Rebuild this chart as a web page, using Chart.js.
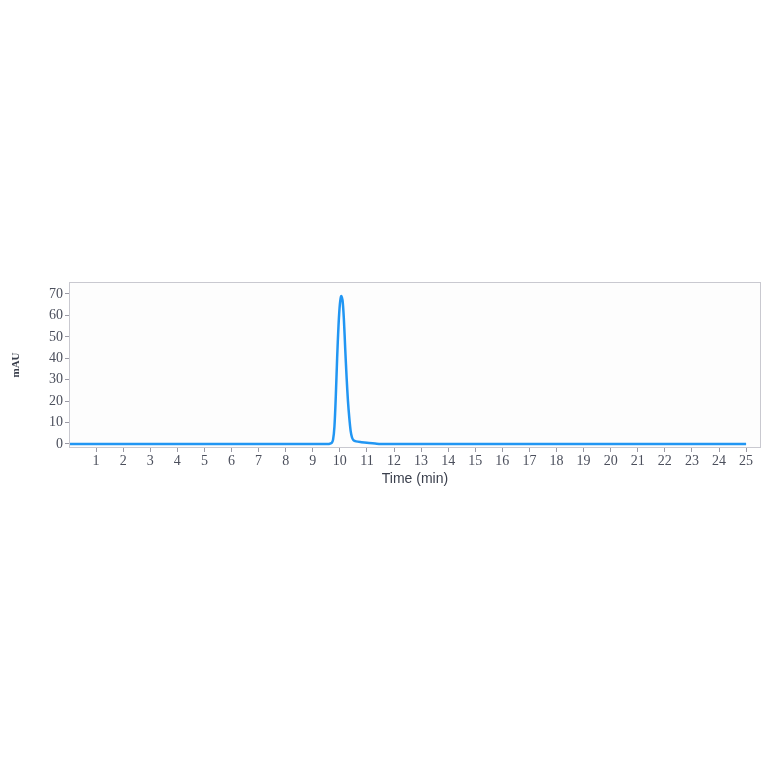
<!DOCTYPE html>
<html>

<head>
    <title>Chromatogram</title>
    <script src="https://cdn.jsdelivr.net/npm/chart.js"></script>
    <style>
        body {
            margin: 0;
            background: #ffffff;
        }

        #wrap {
            position: absolute;
            left: 0;
            top: 0;
            width: 764px;
            height: 764px;
        }
    </style>
</head>

<body>
    <div id="wrap"><canvas id="chrom"></canvas></div>

    <script>
        // retention time (min) and absorbance (mAU)
        const times = [0, 9.5, 9.6, 9.7, 9.75, 9.8, 9.85, 9.9, 9.95, 10.0, 10.05, 10.1, 10.15, 10.2, 10.25, 10.3, 10.35, 10.4, 10.45, 10.5, 10.6, 10.8, 11.0, 11.3, 11.5, 25];
        const mAU = [0, 0, 0, 0.5, 2, 8, 22, 40, 55, 65, 69, 67, 58, 44, 31, 20, 12, 6, 3, 1.8, 1.2, 0.8, 0.5, 0.2, 0, 0];
        const xTicks = [1, 2, 3, 4, 5, 6, 7, 8, 9, 10, 11, 12, 13, 14, 15, 16, 17, 18, 19, 20, 21, 22, 23, 24, 25];
        const yTicks = [0, 10, 20, 30, 40, 50, 60, 70];

        const frame = {
            id: 'frame',
            beforeDraw(chart) {
                const a = chart.chartArea, c = chart.ctx;
                c.save();
                c.fillStyle = '#fdfdfd';
                c.fillRect(a.left, a.top, a.right - a.left, a.bottom - a.top);
                c.restore();
            },
            afterDraw(chart) {
                const a = chart.chartArea, c = chart.ctx;
                c.save();
                c.strokeStyle = '#c9c9d0';
                c.lineWidth = 1;
                c.strokeRect(a.left + 0.5, a.top + 0.5, a.right - a.left - 1, a.bottom - a.top - 1);
                c.restore();
            }
        };

        const tickColor = '#4b4f5c';
        const serif = '"Liberation Serif", "DejaVu Serif", serif';

        new Chart(document.getElementById('chrom'), {
            type: 'line',
            data: {
                datasets: [{
                    data: times.map((t, i) => ({ x: t, y: mAU[i] })),
                    borderColor: '#2196f3',
                    borderWidth: 2.5,
                    pointRadius: 0,
                    tension: 0.3,
                    fill: false
                }]
            },
            plugins: [frame],
            options: {
                responsive: true,
                maintainAspectRatio: false,
                animation: false,
                layout: {
                    padding: { left: 6, right: 3, top: 282, bottom: 276 }
                },
                plugins: {
                    legend: { display: false },
                    tooltip: { enabled: false }
                },
                scales: {
                    x: {
                        type: 'linear',
                        min: 0,
                        max: 25.55,
                        afterBuildTicks: s => { s.ticks = xTicks.map(v => ({ value: v })); },
                        afterFit: s => { s.height = 40; },
                        border: { display: false },
                        grid: { drawOnChartArea: false, tickLength: 4, color: '#9a9aa5' },
                        ticks: {
                            color: tickColor,
                            padding: 1,
                            maxRotation: 0,
                            autoSkip: false,
                            font: { family: serif, size: 14 }
                        },
                        title: {
                            display: true,
                            text: 'Time (min)',
                            color: '#3a3f4c',
                            padding: { top: 0, bottom: 0 },
                            font: { family: 'Arial, "Liberation Sans", sans-serif', size: 14 }
                        }
                    },
                    y: {
                        min: -1.9,
                        max: 75.6,
                        afterBuildTicks: s => { s.ticks = yTicks.map(v => ({ value: v })); },
                        afterFit: s => { s.width = 63; },
                        border: { display: false },
                        grid: { drawOnChartArea: false, tickLength: 4, color: '#9a9aa5' },
                        ticks: {
                            color: tickColor,
                            padding: 2,
                            font: { family: serif, size: 14 }
                        },
                        title: {
                            display: true,
                            text: 'mAU',
                            color: '#3a3f4c',
                            padding: { top: 4, bottom: 0 },
                            font: { family: serif, size: 11, weight: 'bold' }
                        }
                    }
                }
            }
        });
    </script>
</body>

</html>
